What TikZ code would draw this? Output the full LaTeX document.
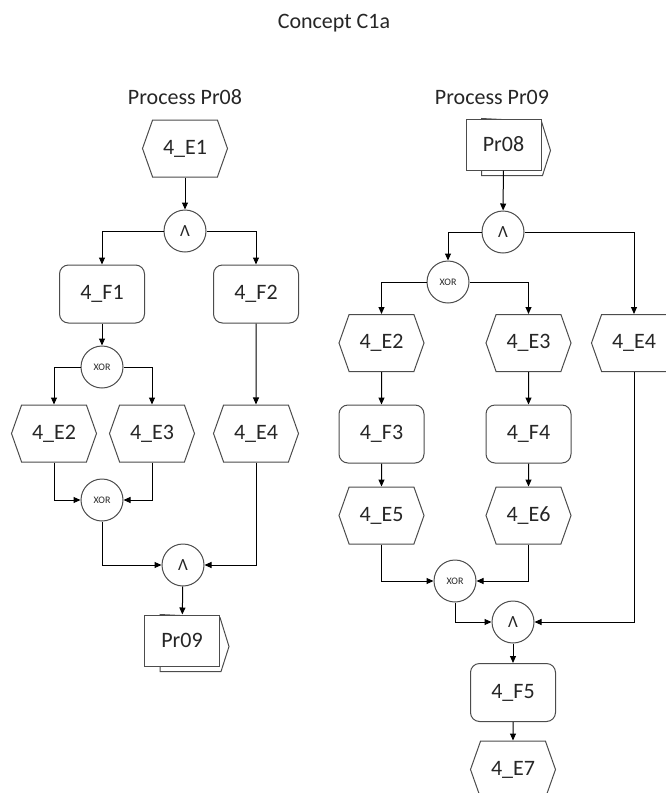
\documentclass[tikz,border=0pt]{standalone}
\usepackage{fontspec}
\setmainfont{Carlito}
\usetikzlibrary{shapes.symbols,arrows.meta,backgrounds}
\newcommand{\lbl}{\fontsize{22}{22}\selectfont}
\newcommand{\hdr}{\fontsize{22}{22}\selectfont}
\tikzset{
	shp/.style={draw=black!70,line width=1pt,fill=white,text=black!85},
	evt/.style={shp,signal,signal to=east and west,signal pointer angle=141,minimum width=85pt,minimum height=57pt,inner sep=0pt,font=\lbl},
	fn/.style={shp,rectangle,rounded corners=9pt,minimum width=85pt,minimum height=58pt,font=\lbl},
	andc/.style={shp,circle,minimum size=42pt,inner sep=0pt,font=\fontsize{17}{17}\selectfont},
	xorc/.style={shp,circle,minimum size=42pt,inner sep=0pt,font=\fontsize{10}{10}\selectfont},
	proc/.style={shp,rectangle,minimum width=75pt,minimum height=51pt,font=\lbl},
	flow/.style={draw=black,line width=1pt,-{Triangle[length=7pt,width=6pt]}}
}

\begin{document}
\begin{tikzpicture}[x=1pt,y=-1pt]
			\useasboundingbox (0,0) rectangle (666,793);
			\clip (0,0) rectangle (666,793);
			\node[text=black!85,font=\hdr] (title) at (334,23) {Concept C1a};
			\node[text=black!85,font=\hdr] (hdr08) at (185,97) {Process Pr08};
			\node[text=black!85,font=\hdr] (hdr09) at (492,97) {Process Pr09};

			\node[evt] (e1) at (185,148.5) {4\_E1};
			\node[andc] (and1) at (185,231) {Λ};
			\node[fn] (f1) at (102,294) {4\_F1};
			\node[fn] (f2) at (256,294) {4\_F2};
			\node[xorc] (xor1) at (102,367) {XOR};
			\node[evt] (e2) at (54,433.5) {4\_E2};
			\node[evt] (e3) at (152,433.5) {4\_E3};
			\node[evt] (e4) at (256,433.5) {4\_E4};
			\node[xorc] (xor2) at (102,500) {XOR};
			\node[andc] (and2) at (183,565) {Λ};
			\node[proc] (p09) at (182,640.5) {Pr09};

			\node[proc] (p08) at (503.5,144.5) {Pr08};
			\node[andc] (and3) at (503,232) {Λ};
			\node[xorc] (xor3) at (448,282) {XOR};
			\node[evt] (e2r) at (381.5,343) {4\_E2};
			\node[evt] (e3r) at (528.5,343) {4\_E3};
			\node[evt] (e4r) at (634,343) {4\_E4};
			\node[fn] (f3r) at (381.5,434) {4\_F3};
			\node[fn] (f4r) at (528.5,434) {4\_F4};
			\node[evt] (e5r) at (381.5,515.5) {4\_E5};
			\node[evt] (e6r) at (528.5,515.5) {4\_E6};
			\node[xorc] (xor4) at (455,581) {XOR};
			\node[andc] (and4) at (513,622) {Λ};
			\node[fn] (f5) at (513,692.5) {4\_F5};
			\node[evt] (e7) at (513,769.5) {4\_E7};

			\begin{pgfonlayer}{background}
				\foreach \p in {p09,p08}
					\draw[shp] ([xshift=16pt]\p.north west) -- ([yshift=-3pt]\p.north east) -- ([xshift=9pt,yshift=-6pt]\p.east) -- ([xshift=1pt,yshift=-5pt]\p.south east) -- ([xshift=16pt,yshift=-5pt]\p.south west) -- cycle;
			\end{pgfonlayer}

			\draw[flow] (e1) -- (and1);
			\draw[flow] (and1.west) -| (f1);
			\draw[flow] (and1.east) -| (f2);
			\draw[flow] (f1) -- (xor1);
			\draw[flow] (xor1.west) -| (e2);
			\draw[flow] (xor1.east) -| (e3);
			\draw[flow] (f2) -- (e4);
			\draw[flow] (e2) |- (xor2);
			\draw[flow] (e3) |- (xor2);
			\draw[flow] (xor2) |- (and2);
			\draw[flow] (e4) |- (and2);
			\draw[flow] (and2) -- (p09);

			\draw[flow] (p08) -- (and3);
			\draw[flow] (and3.west) -| (xor3);
			\draw[flow] (and3.east) -| (e4r);
			\draw[flow] (xor3.west) -| (e2r);
			\draw[flow] (xor3.east) -| (e3r);
			\draw[flow] (e2r) -- (f3r);
			\draw[flow] (f3r) -- (e5r);
			\draw[flow] (e3r) -- (f4r);
			\draw[flow] (f4r) -- (e6r);
			\draw[flow] (e5r) |- (xor4);
			\draw[flow] (e6r) |- (xor4);
			\draw[flow] (xor4) |- (and4);
			\draw[flow] (e4r) |- (and4);
			\draw[flow] (and4) -- (f5);
			\draw[flow] (f5) -- (e7);
		\end{tikzpicture}
\end{document}
